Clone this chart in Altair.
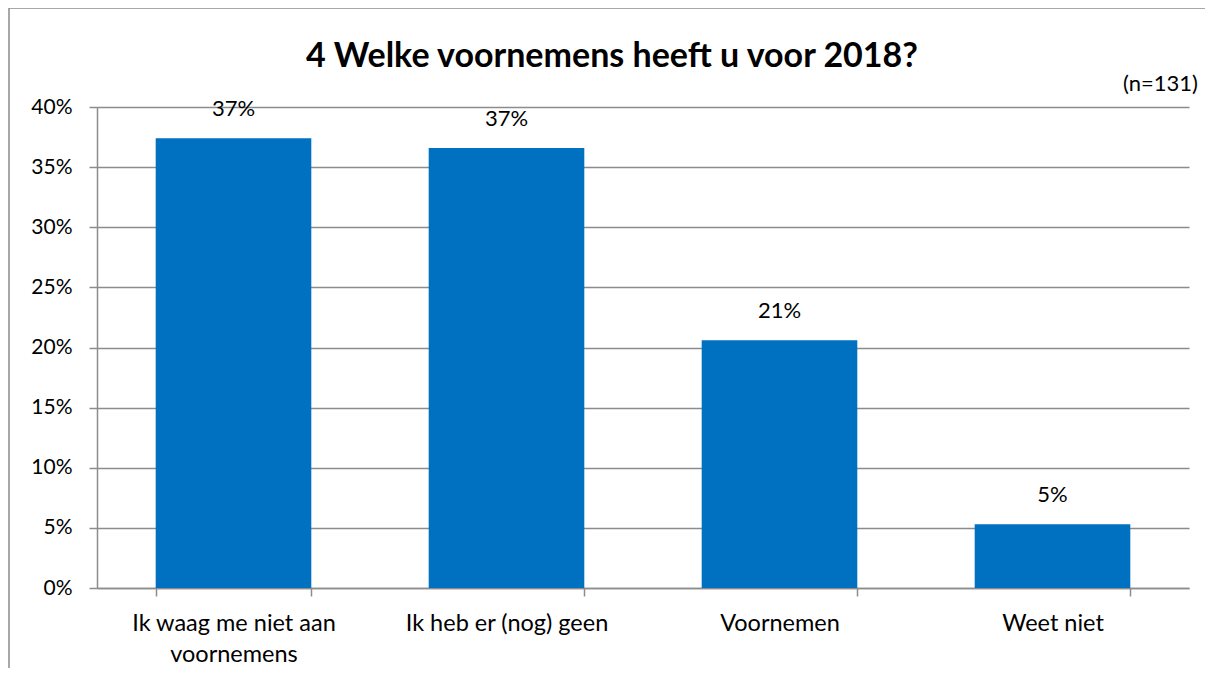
import altair as alt
import pandas as pd

categories = ["Ik waag me niet aan voornemens", "Ik heb er (nog) geen", "Voornemen", "Weet niet"]
values = [0.374, 0.366, 0.206, 0.053]
title_text = "4 Welke voornemens heeft u voor 2018?"
note_text = "(n=131)"

df = pd.DataFrame({"cat": categories, "val": values})
FONT = "Lato"
GRAY = "#8c8c8c"
BLUE = "#0070C0"

W, H = 1092, 481

x_enc = alt.X(
    "cat:N",
    sort=categories,
    scale=alt.Scale(paddingInner=0.43, paddingOuter=0.215),
    axis=alt.Axis(
        title=None,
        labelAngle=0,
        labelFont=FONT,
        labelFontSize=23.5,
        labelColor="#000000",
        labelPadding=15,
        labelLineHeight=31,
        labelLimit=400,
        labelExpr="datum.label == 'Ik waag me niet aan voornemens' ? ['Ik waag me niet aan', 'voornemens'] : datum.label",
        tickBand="extent",
        tickSize=8,
        tickColor=GRAY,
        tickWidth=1.5,
        domainColor=GRAY,
        domainWidth=1.5,
        grid=False,
    ),
)
y_enc = alt.Y(
    "val:Q",
    scale=alt.Scale(domain=[0, 0.4], nice=False),
    axis=alt.Axis(
        title=None,
        format=".0%",
        values=[0, 0.05, 0.1, 0.15, 0.2, 0.25, 0.3, 0.35, 0.4],
        labelFont=FONT,
        labelFontSize=21,
        labelColor="#000000",
        labelPadding=17,
        tickSize=8,
        tickColor=GRAY,
        tickWidth=1.5,
        domainColor=GRAY,
        domainWidth=1.5,
        grid=True,
        gridColor=GRAY,
        gridWidth=1.5,
    ),
)

bars = alt.Chart(df).mark_bar(color=BLUE).encode(x=x_enc, y=y_enc)

labels = alt.Chart(df).mark_text(
    font=FONT, fontSize=22, color="#000000", baseline="bottom", dy=-17
).encode(
    x=alt.X("cat:N", sort=categories),
    y=alt.Y("val:Q"),
    text=alt.Text("val:Q", format=".0%"),
)

frame_df = pd.DataFrame({"k": [0]})
frame = alt.Chart(frame_df).mark_rect(
    fill=None, stroke=GRAY, strokeWidth=1.5
).encode(
    x=alt.value(-88), x2=alt.value(1300), y=alt.value(-99), y2=alt.value(900)
)

title_df = pd.DataFrame({"t": [title_text]})
title = alt.Chart(title_df).mark_text(
    font=FONT, fontSize=34, fontWeight="bold", color="#000000", baseline="middle", align="center"
).encode(text="t:N", x=alt.value(515), y=alt.value(-50))

note_df = pd.DataFrame({"t": [note_text]})
note = alt.Chart(note_df).mark_text(
    font=FONT, fontSize=22, color="#000000", baseline="middle", align="right"
).encode(text="t:N", x=alt.value(1101), y=alt.value(-23))

chart = alt.layer(frame, bars, labels, title, note).properties(
    width=W,
    height=H,
    autosize=alt.AutoSizeParams(type="none"),
    padding={"left": 89, "top": 99, "right": 16, "bottom": 80},
).configure_view(stroke=None).resolve_scale(x="shared", y="shared")

chart.save("out.html", embed_options={"renderer": "svg", "actions": False})
